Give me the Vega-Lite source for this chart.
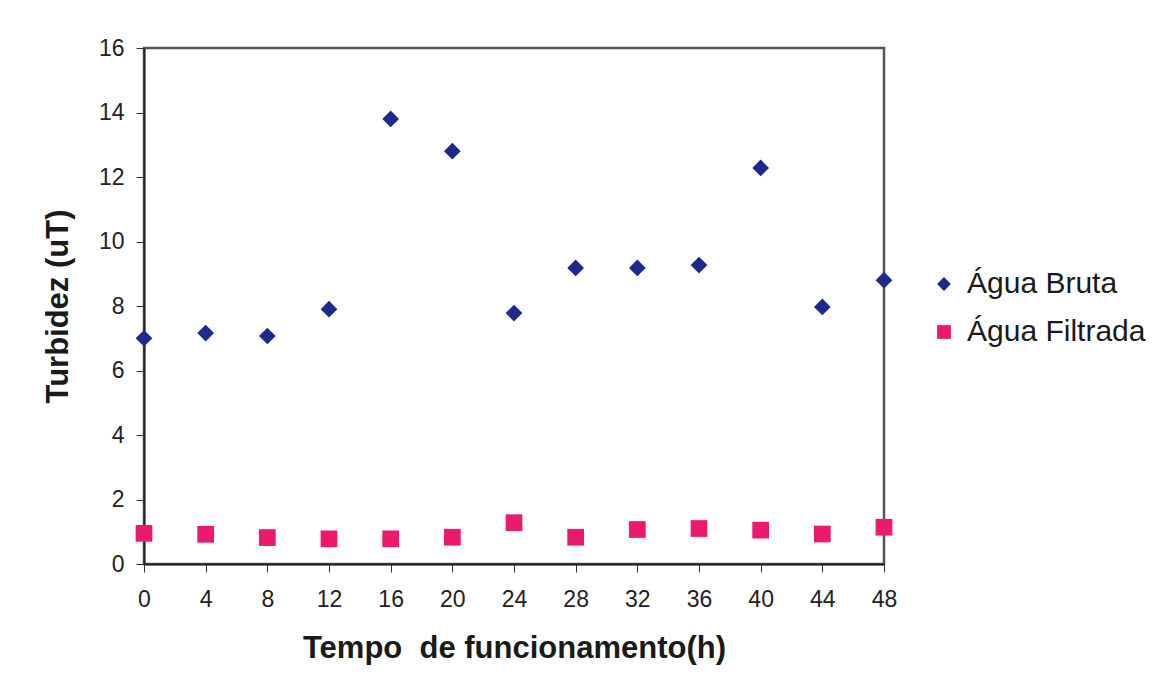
{
  "$schema": "https://vega.github.io/schema/vega-lite/v6.json",
  "autosize": {"type": "none"},
  "width": 740,
  "height": 516,
  "padding": {"left": 144, "top": 48, "right": 284, "bottom": 129},
  "background": "white",
  "config": {
    "font": "Liberation Sans",
    "view": {"stroke": "#555555", "strokeWidth": 2.5}
  },
  "data": {
    "values": [
      {"tempo": 0, "serie": "Água Bruta", "turbidez": 7.0},
      {"tempo": 4, "serie": "Água Bruta", "turbidez": 7.16},
      {"tempo": 8, "serie": "Água Bruta", "turbidez": 7.07},
      {"tempo": 12, "serie": "Água Bruta", "turbidez": 7.9},
      {"tempo": 16, "serie": "Água Bruta", "turbidez": 13.8},
      {"tempo": 20, "serie": "Água Bruta", "turbidez": 12.8},
      {"tempo": 24, "serie": "Água Bruta", "turbidez": 7.78},
      {"tempo": 28, "serie": "Água Bruta", "turbidez": 9.18},
      {"tempo": 32, "serie": "Água Bruta", "turbidez": 9.18},
      {"tempo": 36, "serie": "Água Bruta", "turbidez": 9.27},
      {"tempo": 40, "serie": "Água Bruta", "turbidez": 12.28},
      {"tempo": 44, "serie": "Água Bruta", "turbidez": 7.97},
      {"tempo": 48, "serie": "Água Bruta", "turbidez": 8.8},
      {"tempo": 0, "serie": "Água Filtrada", "turbidez": 0.95},
      {"tempo": 4, "serie": "Água Filtrada", "turbidez": 0.92},
      {"tempo": 8, "serie": "Água Filtrada", "turbidez": 0.82},
      {"tempo": 12, "serie": "Água Filtrada", "turbidez": 0.78},
      {"tempo": 16, "serie": "Água Filtrada", "turbidez": 0.78},
      {"tempo": 20, "serie": "Água Filtrada", "turbidez": 0.83},
      {"tempo": 24, "serie": "Água Filtrada", "turbidez": 1.28},
      {"tempo": 28, "serie": "Água Filtrada", "turbidez": 0.83},
      {"tempo": 32, "serie": "Água Filtrada", "turbidez": 1.07},
      {"tempo": 36, "serie": "Água Filtrada", "turbidez": 1.1},
      {"tempo": 40, "serie": "Água Filtrada", "turbidez": 1.05},
      {"tempo": 44, "serie": "Água Filtrada", "turbidez": 0.93},
      {"tempo": 48, "serie": "Água Filtrada", "turbidez": 1.14}
    ]
  },
  "mark": {"type": "point", "filled": true, "opacity": 1, "size": 280},
  "encoding": {
    "x": {
      "field": "tempo",
      "type": "quantitative",
      "scale": {"domain": [0, 48], "nice": false, "zero": false},
      "axis": {
        "title": "Tempo\u00a0 de funcionamento(h)",
        "values": [0, 4, 8, 12, 16, 20, 24, 28, 32, 36, 40, 44, 48],
        "grid": false,
        "labelFlush": false,
        "domainColor": "#222222",
        "domainWidth": 2,
        "tickColor": "#333333",
        "tickSize": 8,
        "labelFontSize": 23,
        "labelColor": "#222222",
        "labelPadding": 16,
        "titleFontSize": 31,
        "titleFontWeight": "bold",
        "titleColor": "#1a1a1a",
        "titlePadding": 22
      }
    },
    "y": {
      "field": "turbidez",
      "type": "quantitative",
      "scale": {"domain": [0, 16], "nice": false},
      "axis": {
        "title": "Turbidez (uT)",
        "values": [0, 2, 4, 6, 8, 10, 12, 14, 16],
        "grid": false,
        "labelFlush": false,
        "domainColor": "#222222",
        "domainWidth": 2,
        "tickColor": "#333333",
        "tickSize": 8,
        "labelFontSize": 23,
        "labelColor": "#222222",
        "labelPadding": 12,
        "titleFontSize": 31,
        "titleFontWeight": "bold",
        "titleColor": "#1a1a1a",
        "titlePadding": 24
      }
    },
    "color": {
      "field": "serie",
      "type": "nominal",
      "scale": {"domain": ["Água Bruta", "Água Filtrada"], "range": ["#1c2a8c", "#ea1a6c"]},
      "legend": {
        "title": null,
        "orient": "none",
        "legendX": 785,
        "legendY": 221,
        "labelFontSize": 30,
        "labelLimit": 400,
        "labelColor": "#1a1a1a",
        "symbolSize": 190,
        "rowPadding": 18,
        "labelOffset": 8,
        "symbolOpacity": 1
      }
    },
    "shape": {
      "field": "serie",
      "type": "nominal",
      "scale": {"domain": ["Água Bruta", "Água Filtrada"], "range": ["diamond", "square"]},
      "legend": null
    }
  }
}
